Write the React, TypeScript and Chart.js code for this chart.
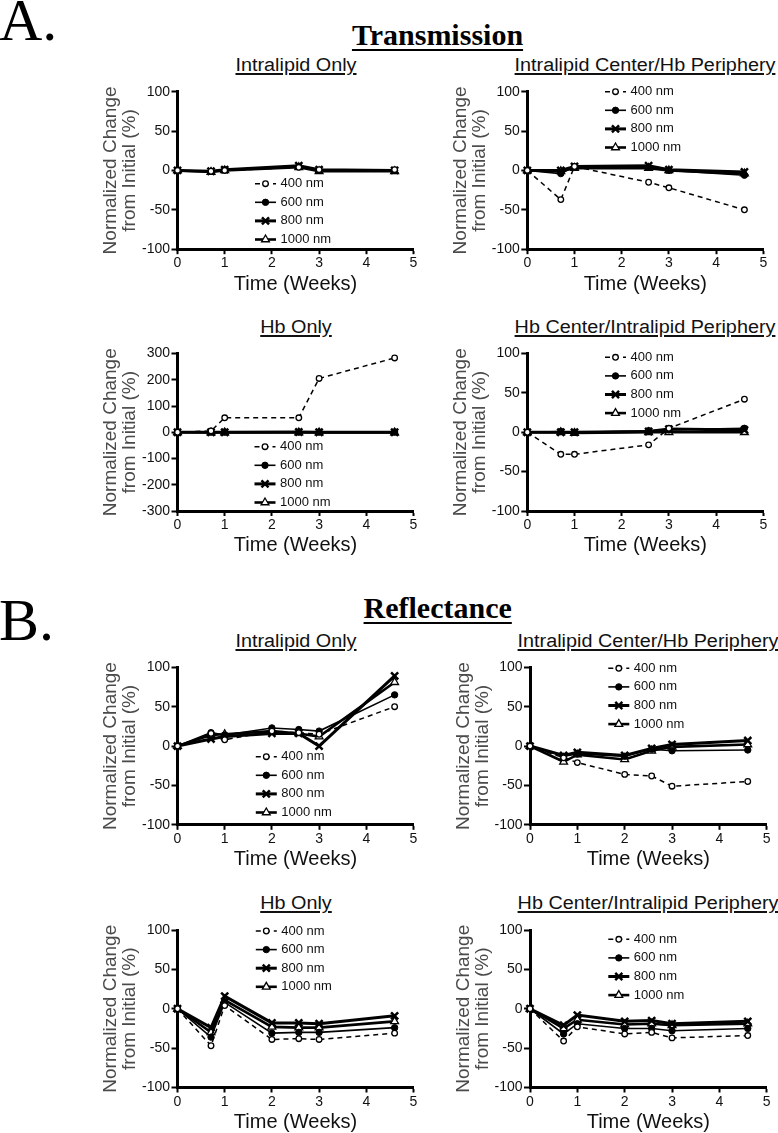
import React, { useEffect, useRef } from "react";
import { Chart, registerables } from "chart.js";
Chart.register(...registerables);

// ---------- DATA ----------
const SERIES_LABELS = ["400 nm", "600 nm", "800 nm", "1000 nm"];
const WEEKS_T = [0, 0.71, 1, 2.57, 3, 4.6];
const WEEKS_R = [0, 0.71, 1, 2, 2.57, 3, 4.6];
const X_TICKS = [0, 1, 2, 3, 4, 5];
const Y_TICKS_100 = [-100, -50, 0, 50, 100];
const Y_TICKS_300 = [-300, -200, -100, 0, 100, 200, 300];

// Transmission – Intralipid Only
const T_IL_400 = [0, -1, 0, 4, 1, 1];
const T_IL_600 = [0, -1, 1, 5, 0, 0];
const T_IL_800 = [0, -1, 1, 6, 1, 0];
const T_IL_1000 = [0, -2, 0, 4, -1, -1];
// Transmission – Intralipid Center/Hb Periphery
const T_ILC_400 = [0, -37, 5, -15, -22, -50];
const T_ILC_600 = [0, -4, 5, 4, 0, -6];
const T_ILC_800 = [0, 0, 5, 6, 1, -2];
const T_ILC_1000 = [0, -1, 3, 3, 0, -4];
// Transmission – Hb Only
const T_HB_400 = [0, 5, 55, 55, 205, 283];
const T_HB_600 = [0, 1, 1, 1, 1, 1];
const T_HB_800 = [0, 0, 0, 1, 0, 0];
const T_HB_1000 = [0, -1, -1, -1, -1, -1];
// Transmission – Hb Center/Intralipid Periphery
const T_HBC_400 = [0, -28, -28, -16, 5, 42];
const T_HBC_600 = [0, 1, 0, 2, 3, 5];
const T_HBC_800 = [0, 0, 0, 1, 4, 3];
const T_HBC_1000 = [0, 0, -1, 0, 0, 0];
// Reflectance – Intralipid Only
const R_IL_400 = [0, 16, 8, 19, 17, 15, 50];
const R_IL_600 = [0, 17, 14, 23, 21, 19, 65];
const R_IL_800 = [0, 9, 12, 16, 16, 0, 89];
const R_IL_1000 = [0, 14, 15, 19, 16, 12, 81];
// Reflectance – Intralipid Center/Hb Periphery
const R_ILC_400 = [0, -15, -21, -36, -38, -51, -45];
const R_ILC_600 = [0, -13, -10, -13, -4, -6, -5];
const R_ILC_800 = [0, -12, -8, -12, -3, 2, 7];
const R_ILC_1000 = [0, -20, -11, -17, -6, -1, 2];
// Reflectance – Hb Only
const R_HB_400 = [0, -47, 4, -39, -38, -39, -31];
const R_HB_600 = [0, -36, 8, -31, -30, -30, -24];
const R_HB_800 = [0, -24, 16, -18, -18, -19, -9];
const R_HB_1000 = [0, -30, 11, -23, -24, -24, -16];
// Reflectance – Hb Center/Intralipid Periphery
const R_HBC_400 = [0, -41, -23, -32, -30, -37, -34];
const R_HBC_600 = [0, -32, -19, -25, -25, -28, -25];
const R_HBC_800 = [0, -21, -8, -16, -15, -19, -16];
const R_HBC_1000 = [0, -25, -14, -20, -19, -21, -19];

// ---------- STYLE ----------
const SANS = "'Liberation Sans', Arial, sans-serif";
const SERIF = "'Liberation Serif', 'Times New Roman', serif";

const SERIES_STYLE = [
  { borderWidth: 1.5, borderDash: [5, 4], pointStyle: "circle", pointRadius: 2.8, fill: "#fff", pointBorderWidth: 1.3 },
  { borderWidth: 1.6, borderDash: [], pointStyle: "circle", pointRadius: 3.2, fill: "#000", pointBorderWidth: 1 },
  { borderWidth: 3, borderDash: [], pointStyle: "crossRot", pointRadius: 5, fill: "#000", pointBorderWidth: 2.5 },
  { borderWidth: 2.6, borderDash: [], pointStyle: "triangle", pointRadius: 4.5, fill: "#fff", pointBorderWidth: 1.3 },
];

const PLOT_W_TOP = 236;
const PLOT_H = 157.5;
const Y_AXIS_W = 77;
const PAD_TOP = 10;
const PAD_RIGHT = 12;
const X_AXIS_H = 46;

const PANELS = [
  { title: "Intralipid Only", left: 177.5, top: 91.7, w: PLOT_W_TOP, x: WEEKS_T, yTicks: Y_TICKS_100, series: [T_IL_400, T_IL_600, T_IL_800, T_IL_1000], lg: [77.5, 92] },
  { title: "Intralipid Center/Hb Periphery", left: 527.3, top: 91.7, w: PLOT_W_TOP, x: WEEKS_T, yTicks: Y_TICKS_100, series: [T_ILC_400, T_ILC_600, T_ILC_800, T_ILC_1000], lg: [77.7, 0] },
  { title: "Hb Only", left: 177.5, top: 353.5, w: PLOT_W_TOP, x: WEEKS_T, yTicks: Y_TICKS_300, series: [T_HB_400, T_HB_600, T_HB_800, T_HB_1000], lg: [77, 93.2] },
  { title: "Hb Center/Intralipid Periphery", left: 527.3, top: 353.5, w: PLOT_W_TOP, x: WEEKS_T, yTicks: Y_TICKS_100, series: [T_HBC_400, T_HBC_600, T_HBC_800, T_HBC_1000], lg: [77.7, 3.8] },
  { title: "Intralipid Only", left: 177.5, top: 667.3, w: PLOT_W_TOP, x: WEEKS_R, yTicks: Y_TICKS_100, series: [R_IL_400, R_IL_600, R_IL_800, R_IL_1000], lg: [78.3, 89.4] },
  { title: "Intralipid Center/Hb Periphery", left: 530, top: 667.3, w: 236.7, x: WEEKS_R, yTicks: Y_TICKS_100, series: [R_ILC_400, R_ILC_600, R_ILC_800, R_ILC_1000], lg: [78.3, 1] },
  { title: "Hb Only", left: 177.5, top: 930, w: PLOT_W_TOP, x: WEEKS_R, yTicks: Y_TICKS_100, series: [R_HB_400, R_HB_600, R_HB_800, R_HB_1000], lg: [78.3, 1] },
  { title: "Hb Center/Intralipid Periphery", left: 530, top: 930, w: 236.7, x: WEEKS_R, yTicks: Y_TICKS_100, series: [R_HBC_400, R_HBC_600, R_HBC_800, R_HBC_1000], lg: [78.3, 9.3] },
];

function drawMarker(ctx: CanvasRenderingContext2D, st: any, x: number, y: number) {
  ctx.save();
  ctx.setLineDash([]);
  ctx.lineWidth = st.pointBorderWidth;
  ctx.strokeStyle = "#000";
  ctx.fillStyle = st.fill;
  const r = st.pointRadius;
  ctx.beginPath();
  if (st.pointStyle === "circle") {
    ctx.arc(x, y, r, 0, Math.PI * 2);
    ctx.fill();
    ctx.stroke();
  } else if (st.pointStyle === "crossRot") {
    const d = r * Math.SQRT1_2;
    ctx.moveTo(x - d, y - d);
    ctx.lineTo(x + d, y + d);
    ctx.moveTo(x + d, y - d);
    ctx.lineTo(x - d, y + d);
    ctx.stroke();
  } else {
    let a = 0;
    ctx.moveTo(x + Math.sin(a) * r, y - Math.cos(a) * r);
    a += (2 * Math.PI) / 3;
    ctx.lineTo(x + Math.sin(a) * r, y - Math.cos(a) * r);
    a += (2 * Math.PI) / 3;
    ctx.lineTo(x + Math.sin(a) * r, y - Math.cos(a) * r);
    ctx.closePath();
    ctx.fill();
    ctx.stroke();
  }
  ctx.restore();
}

function Panel({ p }: { p: any }) {
  const ref = useRef<HTMLCanvasElement>(null);
  const canvasLeft = Math.floor(p.left - Y_AXIS_W);
  const yW = p.left - canvasLeft;
  const canvasTop = Math.floor(p.top - PAD_TOP);
  const padTop = p.top - canvasTop;
  const W = Math.ceil(yW + p.w + PAD_RIGHT);
  const padRight = W - yW - p.w;
  const H = Math.ceil(padTop + PLOT_H + X_AXIS_H);
  const xH = H - padTop - PLOT_H;
  const yMax = p.yTicks[p.yTicks.length - 1];

  useEffect(() => {
    const legendPlugin = {
      id: "customLegend",
      afterDatasetsDraw(chart: any) {
        const ctx = chart.ctx as CanvasRenderingContext2D;
        const ca = chart.chartArea;
        const x0 = ca.left + p.lg[0];
        const y0 = ca.top + p.lg[1];
        SERIES_LABELS.forEach((label, i) => {
          const st = SERIES_STYLE[i];
          const y = y0 + i * 18.6;
          ctx.save();
          ctx.strokeStyle = "#000";
          ctx.lineWidth = st.borderWidth;
          ctx.setLineDash(st.borderDash);
          ctx.beginPath();
          ctx.moveTo(x0, y);
          ctx.lineTo(x0 + 21, y);
          ctx.stroke();
          ctx.restore();
          drawMarker(ctx, st, x0 + 10.5, y);
          ctx.save();
          ctx.fillStyle = "#111";
          ctx.font = `13px ${SANS}`;
          ctx.textBaseline = "middle";
          ctx.textAlign = "left";
          ctx.fillText(label, x0 + 25.5, y);
          ctx.restore();
        });
      },
    };

    const datasets = p.series.map((vals: number[], i: number) => {
      const st = SERIES_STYLE[i];
      return {
        label: SERIES_LABELS[i],
        data: p.x.map((xv: number, j: number) => ({ x: xv, y: vals[j] })),
        borderColor: "#000",
        borderWidth: st.borderWidth,
        borderDash: st.borderDash,
        pointStyle: st.pointStyle,
        pointRadius: st.pointRadius,
        pointBackgroundColor: st.fill,
        pointBorderColor: "#000",
        pointBorderWidth: st.pointBorderWidth,
        tension: 0,
        clip: false,
      };
    });

    const chart = new Chart(ref.current as HTMLCanvasElement, {
      type: "line",
      data: { datasets },
      options: {
        responsive: false,
        animation: false,
        devicePixelRatio: 1,
        layout: { padding: { left: 0, top: padTop, right: padRight, bottom: 0 } },
        plugins: { legend: { display: false }, tooltip: { enabled: false }, title: { display: false } },
        scales: {
          x: {
            type: "linear",
            position: "bottom",
            min: X_TICKS[0],
            max: X_TICKS[X_TICKS.length - 1],
            afterBuildTicks: (s: any) => {
              s.ticks = X_TICKS.map((v) => ({ value: v }));
            },
            ticks: { font: { family: SANS, size: 14 }, color: "#111", padding: 1, maxRotation: 0, autoSkip: false },
            grid: { drawOnChartArea: false, drawTicks: true, tickLength: 5, tickWidth: 2, tickColor: "#000" },
            border: { display: true, width: 3, color: "#000" },
            title: {
              display: true,
              text: "Time (Weeks)",
              color: "#111",
              font: { family: SANS, size: 20, lineHeight: 1.15 },
              padding: { top: 0, bottom: 0 },
            },
            afterFit: (s: any) => {
              s.height = xH;
            },
          },
          y: {
            type: "linear",
            min: -yMax,
            max: yMax,
            afterBuildTicks: (s: any) => {
              s.ticks = p.yTicks.map((v: number) => ({ value: v }));
            },
            ticks: { font: { family: SANS, size: 14 }, color: "#111", padding: 1.5, autoSkip: false },
            grid: { drawOnChartArea: false, drawTicks: true, tickLength: 6, tickWidth: 2, tickColor: "#000" },
            border: { display: true, width: 3, color: "#000" },
            title: {
              display: true,
              text: ["Normalized Change", "from Initial (%)"],
              color: "#4a4a4a",
              font: { family: SANS, size: 19, lineHeight: 1.0 },
              padding: { top: 1.5, bottom: 0 },
            },
            afterFit: (s: any) => {
              s.width = yW;
            },
          },
        },
      },
      plugins: [legendPlugin],
    } as any);
    return () => chart.destroy();
  }, []);

  const subBaseline = p.top - 20.5;
  return (
    <>
      <div
        style={{
          position: "absolute",
          left: p.left + p.w / 2,
          top: subBaseline - 0.8465 * 18,
          fontFamily: SANS,
          fontSize: 18,
          lineHeight: 1,
          whiteSpace: "nowrap",
          color: "#111",
          textDecoration: "underline",
          textDecorationThickness: "1.5px",
          textUnderlineOffset: "2px",
          transform: "translateX(-50%) scaleX(1.1)",
        }}
      >
        {p.title}
      </div>
      <canvas
        ref={ref}
        width={W}
        height={H}
        style={{ position: "absolute", left: canvasLeft, top: canvasTop, width: W, height: H }}
      />
    </>
  );
}

function Heading({ text, center, baseline, bold, size, left }: any) {
  const style: any = {
    position: "absolute",
    top: baseline - 0.8375 * size,
    fontFamily: SERIF,
    fontSize: size,
    fontWeight: bold ? "bold" : "normal",
    lineHeight: 1,
    whiteSpace: "nowrap",
    color: "#000",
  };
  if (center !== undefined) {
    style.left = center;
    style.transform = "translateX(-50%)";
  } else {
    style.left = left;
  }
  if (bold) {
    style.textDecoration = "underline";
    style.textDecorationThickness = "2px";
    style.textUnderlineOffset = "4px";
  }
  return <div style={style}>{text}</div>;
}

export default function App() {
  return (
    <div style={{ position: "absolute", left: 0, top: 0, width: 778, height: 1133, background: "#fff" }}>
      <Heading text="A." left={-1} baseline={40.7} size={60} />
      <Heading text="Transmission" center={437.5} baseline={45} size={30} bold />
      <Heading text="B." left={-1} baseline={640} size={60} />
      <Heading text="Reflectance" center={437.7} baseline={618} size={30} bold />
      {PANELS.map((p, i) => (
        <Panel key={i} p={p} />
      ))}
    </div>
  );
}
